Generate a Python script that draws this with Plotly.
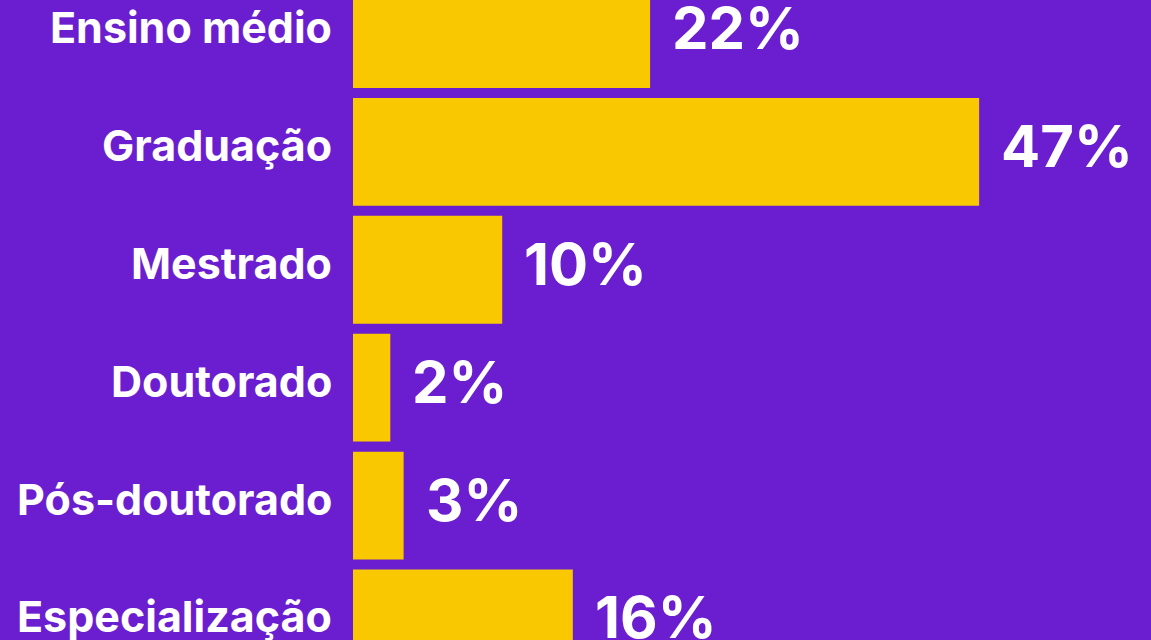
import plotly.graph_objects as go

categories = ["Ensino médio", "Graduação", "Mestrado", "Doutorado", "Pós-doutorado", "Especialização"]
bar_lengths = [22.3, 47.0, 11.2, 2.8, 3.8, 16.5]
value_labels = ["22%", "47%", "10%", "2%", "3%", "16%"]

BG = "#6B1ED0"
BAR = "#FAC800"

fig = go.Figure(go.Bar(
    x=bar_lengths, y=categories, orientation="h",
    marker=dict(color=BAR, line=dict(width=0)),
    hoverinfo="skip",
))

for cat, v, lab in zip(categories, bar_lengths, value_labels):
    # value label right of the bar
    fig.add_annotation(x=v, y=cat, text=lab, showarrow=False,
                       xanchor="left", yanchor="middle", xshift=20, yshift=6,
                       font=dict(family="Inter", size=58, color="white", weight=700))
    # category label left of the axis
    fig.add_annotation(x=0, xref="paper", y=cat, text=cat, showarrow=False,
                       xanchor="right", yanchor="middle", xshift=-19, yshift=7,
                       font=dict(family="Inter", size=43, color="white", weight=700))

fig.update_layout(
    width=1151, height=640,
    margin=dict(l=353, r=0, t=0, b=0),
    paper_bgcolor=BG, plot_bgcolor=BG,
    bargap=0.085, showlegend=False,
    xaxis=dict(range=[0, 59.9], visible=False, fixedrange=True),
    yaxis=dict(range=[5.14, -0.288], showgrid=False, zeroline=False, showline=False,
               showticklabels=False, ticks="", fixedrange=True),
)
fig.write_html("out.html", config={"displayModeBar": False},
               post_script="document.body.style.margin='0';document.body.style.overflow='hidden';")
